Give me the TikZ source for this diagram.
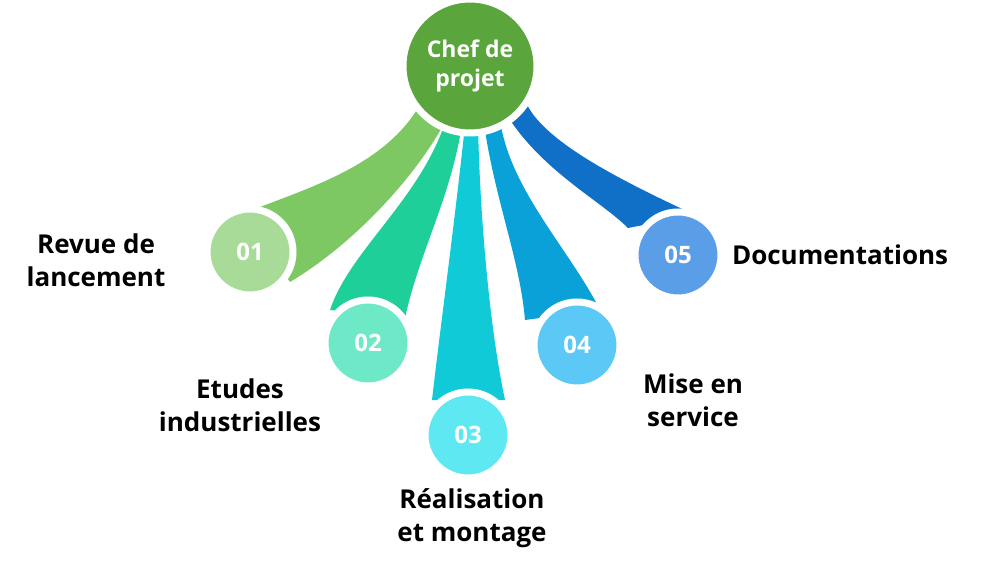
\documentclass[tikz,border=0pt]{standalone}
\usepackage{fontspec}
\setmainfont{Open Sans}
\usepackage{tikz}
\usetikzlibrary{positioning}
\definecolor{chefgreen}{HTML}{5AA63C}
\definecolor{ribA}{HTML}{7DC863}\definecolor{dotA}{HTML}{A9DB98}
\definecolor{ribB}{HTML}{1ECF9A}\definecolor{dotB}{HTML}{6DE9C8}
\definecolor{ribC}{HTML}{10CAD8}\definecolor{dotC}{HTML}{5EE9F2}
\definecolor{ribD}{HTML}{0AA0D8}\definecolor{dotD}{HTML}{5CC8F5}
\definecolor{ribE}{HTML}{1070C8}\definecolor{dotE}{HTML}{5A9EE8}
\begin{document}
\begin{tikzpicture}[x=1pt,y=-1pt,
    dot/.style = {circle, minimum size=86pt, draw=white, line width=7pt,
                  text=white, font=\bfseries\fontsize{24}{24}\selectfont},
    lbl/.style = {align=center, font=\bfseries\fontsize{26}{33}\selectfont}
                    ]
\useasboundingbox (0,0) rectangle (991,572);
% ribbons
\fill[ribA] (418,108) .. controls (380,170) and (300,190) .. (240,215)
            -- (290,282) .. controls (360,240) and (420,170) .. (446,120) -- cycle;
\fill[ribB] (446,120) .. controls (420,200) and (350,250) .. (330,310)
            -- (405,318) .. controls (420,250) and (450,200) .. (462,125) -- cycle;
\fill[ribC] (465,125) .. controls (455,220) and (440,330) .. (432,400)
            -- (505,400) .. controls (490,330) and (480,220) .. (478,125) -- cycle;
\fill[ribD] (484,124) .. controls (495,200) and (520,260) .. (525,320)
            -- (600,310) .. controls (570,250) and (510,190) .. (500,120) -- cycle;
\fill[ribE] (505,112) .. controls (540,170) and (600,200) .. (628,228)
            -- (695,215) .. controls (620,180) and (540,140) .. (525,100) -- cycle;
% circles
\node (chef) [dot, minimum size=134pt, fill=chefgreen,
              font=\bfseries\fontsize{23}{29}\selectfont, align=center]
              at (470,66) {Chef de\\projet};
\node (d1) [dot, fill=dotA] at (250,252) {01};
\node (d2) [dot, fill=dotB] at (368,343) {02};
\node (d3) [dot, fill=dotC] at (468,435) {03};
\node (d4) [dot, fill=dotD] at (577,345) {04};
\node (d5) [dot, fill=dotE] at (678,255) {05};
% labels
\node (t1) [lbl] at (96,260) {Revue de\\lancement};
\node (t2) [lbl] at (240,405) {Etudes\\industrielles};
\node (t3) [lbl] at (472,518) {Réalisation\\et montage};
\node (t4) [lbl] at (693,400) {Mise en\\service};
\node (t5) [lbl, right=4pt of d5] {Documentations};
\end{tikzpicture}
\end{document}
